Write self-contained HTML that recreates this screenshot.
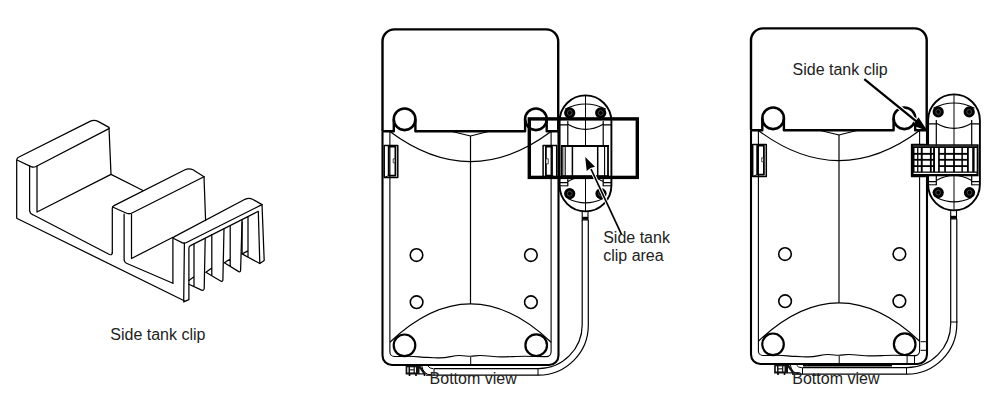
<!DOCTYPE html>
<html><head><meta charset="utf-8">
<style>
html,body{margin:0;padding:0;background:#fff;width:992px;height:406px;overflow:hidden}
svg{position:absolute;left:0;top:0}
text{font-family:"Liberation Sans",sans-serif;font-size:16px;fill:#222}
</style></head><body>
<svg width="992" height="406" viewBox="0 0 992 406">
<defs>
<g id="tank" fill="none" stroke="#000" stroke-linecap="butt" stroke-linejoin="round">
  <!-- top lid -->
  <path d="M382.5,131.3 V41.5 A12,12 0 0 1 394.5,29.4 H546.2 A12,12 0 0 1 558.2,41.4 V131.3" stroke-width="2.4"/>
  <path d="M382.5,131.3 H393.8 V119.3 M415.4,119.3 V131.3 H525.1 V119.3 M546.7,119.3 V131.3 H558.2" stroke-width="2.4"/>
  <circle cx="404.6" cy="119.3" r="10.8" stroke-width="2.6"/>
  <circle cx="535.9" cy="119.3" r="10.8" stroke-width="2.6"/>
  <!-- outer body -->
  <path d="M382.5,131.3 V355.5 A9.5,9.5 0 0 0 392,365 H549 A9.5,9.5 0 0 0 558.5,355.5 V131.3" stroke-width="2.1"/>
  <!-- inner body -->
  <path d="M389.9,131.3 V352 A4.5,4.5 0 0 0 394.4,356.5 C400,356.3 405,356.1 409.2,356.2 C416,356.4 422,357.3 427.3,357.4 C433,357.6 437,357.9 440,357.9 C448,357.6 453,355.6 459.3,355.5 C464,355.5 467,356.3 470.2,356.3 C474,356.3 476,355.5 479.9,355.5 C488,355.6 494,356.9 500.5,356.9 C510,356.8 517,356.3 524.6,356.3 C532,356.3 540,356.7 546.4,356.6 A4.7,4.7 0 0 0 551.1,352 V131.3" stroke-width="1.1"/>
  <line x1="470.7" y1="357" x2="470.7" y2="365" stroke-width="1"/>
  <!-- V and center line -->
  <path d="M452,131.5 L470.5,136 L488.3,131.5" stroke-width="1.2"/>
  <line x1="470.5" y1="136" x2="470.5" y2="303.9" stroke-width="1.2"/>
  <!-- arcs -->
  <path d="M389.9,131.5 Q470.5,191.7 551.1,131.5" stroke-width="1.2"/>
  <path d="M389.9,342.2 Q470.5,265.6 551.1,342.2" stroke-width="1.2"/>
  <!-- circles -->
  <circle cx="404.5" cy="345.3" r="10.8" stroke-width="2.2"/>
  <circle cx="536.2" cy="345.2" r="10.8" stroke-width="2.2"/>
  <circle cx="416.5" cy="255.1" r="6.3" stroke-width="1.6"/>
  <circle cx="530.9" cy="255.1" r="6.3" stroke-width="1.6"/>
  <circle cx="416.6" cy="302.2" r="6.3" stroke-width="1.6"/>
  <circle cx="530.9" cy="302.2" r="6.3" stroke-width="1.6"/>
  <!-- left latch -->
  <rect x="384.2" y="145.5" width="13.6" height="32" stroke-width="1.5"/>
  <rect x="388.7" y="146.7" width="6.7" height="28.9" stroke-width="1.8"/>
  <line x1="384.2" y1="177.5" x2="388.7" y2="175.6" stroke-width="1"/>
  <rect x="393.2" y="158.8" width="1.8" height="4" stroke-width="0.7" fill="#fff"/>
  <!-- right latch -->
  <rect x="543.1" y="145.5" width="13.6" height="32" stroke-width="1.5"/>
  <rect x="545.9" y="146.7" width="6.1" height="28.9" stroke-width="1.8"/>
  <line x1="556.7" y1="177.5" x2="552" y2="175.6" stroke-width="1"/>
  <rect x="545.9" y="158.8" width="2.4" height="5" stroke-width="0.7" fill="#fff"/>
  <!-- holder oval -->
  <path d="M559.6,121.3 A25.9,25.9 0 0 1 611.4,121.3 V185.5 A25.9,25.9 0 0 1 559.6,185.5 Z" stroke-width="1.9"/>
  <line x1="585.5" y1="95.9" x2="585.5" y2="211" stroke-width="1"/>
  <path d="M567.8,121 V186.2 M603.2,121 V186.2" stroke-width="1.2"/>
  <path d="M560,124.8 H567.8 M603.2,124.8 H611 M560,182.6 H567.8 M603.2,182.6 H611" stroke-width="1.3"/>
  <path d="M560,185.8 H567.8 M603.2,185.8 H611" stroke-width="1"/>
  <path d="M564.8,109.2 Q585.5,98.8 606,109.2" stroke-width="1.1"/>
  <path d="M567.8,124.3 Q585.5,134.5 603.2,124.3" stroke-width="1.1"/>
  <path d="M567.8,181.5 Q585.5,171.5 603.2,181.5" stroke-width="1.1"/>
  <path d="M568,198.5 Q585.5,207.2 603,198.5" stroke-width="1.1"/>
  <!-- tube -->
  <path d="M582.2,220 V324.5 A44,44 0 0 1 538.4,368.7 H434" stroke-width="1.2"/>
  <path d="M588.3,220 V325 A50,50 0 0 1 538.6,375.2 H426" stroke-width="1.2"/>
  <line x1="538" y1="368.7" x2="538" y2="375.2" stroke-width="1"/>
  <line x1="434" y1="368.7" x2="434" y2="375.2" stroke-width="1"/>
  <path d="M421.8,366 Q423.5,374.8 431,374.9 M428,366 Q429.5,368.7 433.4,368.7" stroke-width="1"/>
  <rect x="582.2" y="211.5" width="5.8" height="8.5" stroke-width="1.1"/>
  <line x1="582.2" y1="218.3" x2="588" y2="218.3" stroke-width="3"/>
  <!-- connector -->
  <path d="M405.6,366 H420.5 L426.3,374.6 H405.6 Z" fill="#111" stroke="none"/>
  <g fill="#fff" stroke="none">
    <rect x="407.3" y="367.3" width="1.2" height="5.2"/>
    <rect x="410" y="367.3" width="3.6" height="2"/>
    <rect x="410" y="370.4" width="3.6" height="2"/>
    <rect x="414.8" y="367.3" width="1.2" height="5.2"/>
    <path d="M419.5,368.5 L423,373.3 H419.5 Z"/>
  </g>
  <path d="M409.5,374 V376 M416,374 V376 M424.5,374 V376" stroke-width="1.6"/>
</g>
<g id="screw">
  <circle r="5.6" fill="#000"/>
  <circle r="2.4" fill="none" stroke="#777" stroke-width="0.6"/>
</g>
</defs>

<!-- LEFT CLIP -->
<g fill="none" stroke="#000" stroke-width="1.25" stroke-linecap="round" stroke-linejoin="round">
  <!-- wall 1 -->
  <path d="M16.7,160 V218.3 L184.7,301"/>
  <path d="M16.9,159.5 Q17,158 18.5,157.3 L90,121.4 Q94,119.5 98,121.4 L109,127.4"/>
  <path d="M17.5,160.2 L31,166.6 Q33.5,167.6 36,166.5 L109,128.6"/>
  <path d="M29.6,166 V210.5 Q29.8,213.5 33,214.8 L109.5,254.5 Q112.3,255.5 112.3,252.5"/>
  <path d="M37,166 V212 L111,174.4"/>
  <path d="M109,127.8 L111,174.4 L143,190.5"/>
  <!-- wall 2 -->
  <path d="M112.3,253 V208 Q112.5,206.3 114,205.6 L185,169.8 Q189,168 193,169.8 L204,176.8"/>
  <path d="M112.6,207 L126,213 Q129,214.5 132,213 L204,176.8"/>
  <path d="M124.1,214 V259.5 Q124.3,262.4 127,263.5 L172.9,283.2"/>
  <path d="M131.5,214 V258.5 L172.9,237.3 M205.6,220.5 L204,177"/>
  <!-- comb -->
  <path d="M172.9,283.2 V239 Q173,237.5 174.5,236.6 L245,199.3 Q249,197.6 253,199.5 L262,204.6 L264.2,260.5 L259.8,263.5"/>
  <path d="M173.2,238.2 L182,242.6 Q184.4,243.6 186.5,242.5 L262,204.6"/>
  <path d="M184.4,243 L183.7,301.9 L188.9,299.7 V248 Q189,246.3 190.5,245.6 L258.3,211.3 L259.8,263.5 L242.1,253.9 L248,250.9 M248,257.1 L248,216.9"/>
  <path d="M194,243.8 V286.2 M194,276.8 L188.9,280.5 M188.9,284.2 L201.6,290.1 Q203.8,290.8 204.2,288.5 L205.2,238.5"/>
  <path d="M205.9,272.3 L211.8,267.9 M211.8,275.4 V234.6 M205.9,272.3 L221,281.2 Q222.9,281.9 222.9,279.5 L224,228.7"/>
  <path d="M224.3,262.7 L230.2,259 M230.2,265.9 V225.7 M224.3,262.7 L238.8,271.6 Q240.6,272.3 240.6,269.9 L242.1,220.1"/>
  <path d="M242.1,253.9 V222"/>
</g>
<text x="110.3" y="340.3">Side tank clip</text>

<!-- MIDDLE -->
<use href="#tank"/>
<use href="#screw" x="569.7" y="112.9"/>
<use href="#screw" x="600.7" y="112.9"/>
<use href="#screw" x="569.7" y="193.6"/>
<use href="#screw" x="601" y="193.6"/>
<g fill="none" stroke="#000">
  <rect x="561.5" y="146" width="46.8" height="31.6" stroke-width="1.1" fill="#fff"/>
  <line x1="561" y1="146" x2="609" y2="146" stroke-width="2"/>
  <path d="M562.8,146 V177 M565.2,146 V177 M604.6,146 V177 M607.7,146 V177" stroke-width="1.1"/>
  <path d="M572.4,146 V177 M597.7,146 V177" stroke-width="1.5"/>
  <line x1="561" y1="175.8" x2="609" y2="175.8" stroke-width="1.2"/>
  <rect x="529.3" y="118.9" width="108" height="58.5" stroke-width="3.4"/>
</g>
<path d="M591.5,170 L621.6,234.6" stroke="#fff" stroke-width="3.6" fill="none"/>
<path d="M591,169 L621.6,234.6" stroke="#000" stroke-width="1.7" fill="none"/>
<path d="M585.2,157 L595,166.8 L590.5,168 L586.7,170.9 Z" fill="#000"/>
<text x="603.2" y="243.3">Side tank</text>
<text x="603.2" y="261.1">clip area</text>
<text x="429.6" y="384.3">Bottom view</text>

<!-- RIGHT -->
<g transform="translate(368.5,-1)">
<use href="#tank"/>
<use href="#screw" x="569.7" y="112.9"/>
<use href="#screw" x="600.7" y="112.9"/>
<use href="#screw" x="569.7" y="193.6"/>
<use href="#screw" x="601" y="193.6"/>
</g>
<path d="M920.6,341.7 H927.3 M920.6,350.3 H927.3 M907.1,355 V364 M914.5,355 V364 M950.9,322 H957.6" stroke="#000" stroke-width="1" fill="none"/>
<line x1="803" y1="365.7" x2="892" y2="365.7" stroke="#000" stroke-width="1.6"/>
<g>
  <rect x="911.3" y="144.3" width="67.3" height="32" fill="#000"/>
  <rect x="913" y="145.7" width="64" height="0.6" fill="#888"/>
  <g fill="#fff">
    <rect x="914.5" y="148" width="2.6" height="4.9"/>
    <rect x="914.5" y="154.8" width="2.6" height="4.1"/>
    <rect x="914.5" y="160.7" width="2.6" height="4.5"/>
    <rect x="914.5" y="167" width="2.6" height="4.5"/>
    <rect x="918.4" y="148" width="2.4" height="4.9"/>
    <rect x="918.4" y="154.8" width="2.4" height="4.1"/>
    <rect x="918.4" y="160.7" width="2.4" height="4.5"/>
    <rect x="918.4" y="167" width="2.4" height="4.5"/>
    <rect x="922.7" y="148" width="7.2" height="4.9"/>
    <rect x="922.7" y="154.8" width="7.2" height="4.1"/>
    <rect x="922.7" y="160.7" width="7.2" height="4.5"/>
    <rect x="922.7" y="167" width="7.2" height="4.5"/>
    <rect x="931.7" y="148" width="1.4" height="4.9"/>
    <rect x="931.7" y="154.8" width="1.4" height="4.1"/>
    <rect x="931.7" y="160.7" width="1.4" height="4.5"/>
    <rect x="931.7" y="167" width="1.4" height="4.5"/>
    <rect x="939.8" y="148" width="4.4" height="4.9"/>
    <rect x="939.8" y="154.8" width="4.4" height="4.1"/>
    <rect x="939.8" y="160.7" width="4.4" height="4.5"/>
    <rect x="939.8" y="167" width="4.4" height="4.5"/>
    <rect x="945.9" y="148" width="7.2" height="4.9"/>
    <rect x="945.9" y="154.8" width="7.2" height="4.1"/>
    <rect x="945.9" y="160.7" width="7.2" height="4.5"/>
    <rect x="945.9" y="167" width="7.2" height="4.5"/>
    <rect x="954.9" y="148" width="6.5" height="4.9"/>
    <rect x="954.9" y="154.8" width="6.5" height="4.1"/>
    <rect x="954.9" y="160.7" width="6.5" height="4.5"/>
    <rect x="954.9" y="167" width="6.5" height="4.5"/>
    <rect x="962.9" y="148" width="4.1" height="4.9"/>
    <rect x="962.9" y="154.8" width="4.1" height="4.1"/>
    <rect x="962.9" y="160.7" width="4.1" height="4.5"/>
    <rect x="962.9" y="167" width="4.1" height="4.5"/>
    <rect x="935" y="148" width="3.1" height="23.5"/>
    <rect x="968.8" y="148" width="3.4" height="23.5"/>
    <rect x="974.6" y="148" width="2.1" height="23.5"/>
    <rect x="913.5" y="172.8" width="63" height="1.2"/>
  </g>
</g>
<path d="M864.3,79.1 L917,121.8" stroke="#fff" stroke-width="4.5" fill="none"/>
<path d="M864.3,79.1 L917,121.8" stroke="#000" stroke-width="2.3" fill="none"/>
<path d="M927.5,131 L918.5,117.2 L912.8,125.6 Z" fill="#000"/>
<text x="792.5" y="74.8">Side tank clip</text>
<text x="792.3" y="384.3">Bottom view</text>
</svg>
</body></html>
